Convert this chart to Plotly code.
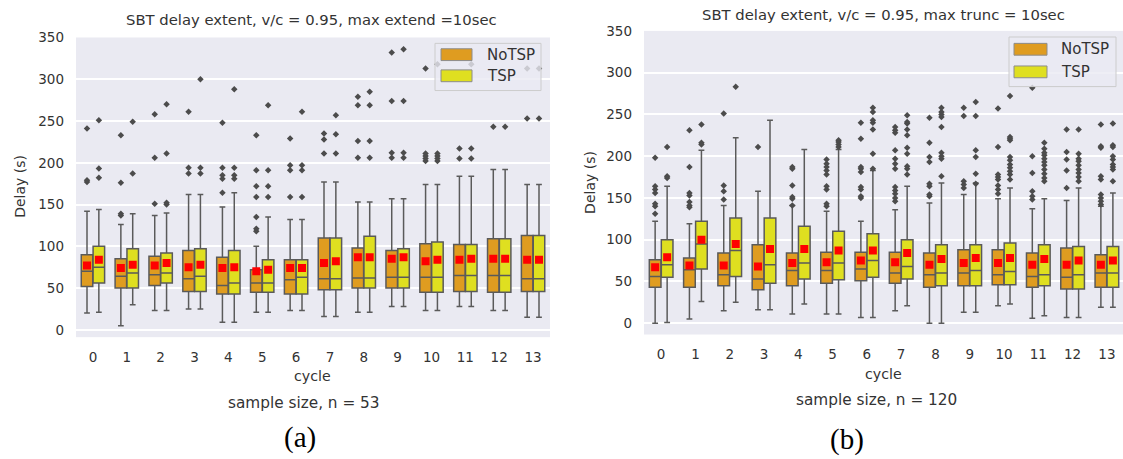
import plotly.graph_objects as go

W, H = 1123, 459

cycles = list(range(14))
cycle_labels = [str(c) for c in cycles]
series_names = ["NoTSP", "TSP"]
y_ticks = [0, 50, 100, 150, 200, 250, 300, 350]

# ---- panel (a): max extend = 10 sec, n = 53 ----
a_notsp_lo = [20, 5, 23, 25, 9, 21, 23, 16, 21, 28, 23, 28, 23, 15]
a_notsp_q1 = [52, 50, 53, 46, 43, 45, 43, 48, 50, 50, 45, 46, 45, 46]
a_notsp_med = [70, 64, 66, 61, 53, 56, 60, 61, 62, 63, 63, 65, 65, 61]
a_notsp_q3 = [90, 85, 88, 95, 87, 72, 84, 110, 98, 95, 103, 102, 109, 113]
a_notsp_hi = [142, 126, 137, 162, 147, 100, 132, 177, 153, 157, 174, 184, 192, 174]
a_notsp_mean = [77, 74, 77, 75, 74, 70, 74, 80, 87, 85, 82, 84, 85, 84]
a_notsp_out = [
    [177, 179, 241], [137, 139, 176, 233], [151, 206, 258], [187, 194, 261],
    [164, 181, 185, 194, 248], [118, 121, 135, 159, 172, 191, 233],
    [159, 191, 197, 229], [211, 228, 235], [206, 226, 269, 279],
    [206, 212, 274, 332], [202, 205, 208, 211, 313], [205, 217], [243], [253, 313],
]

a_tsp_lo = [21, 30, 23, 25, 9, 21, 23, 16, 21, 28, 23, 28, 23, 15]
a_tsp_q1 = [56, 50, 56, 46, 43, 45, 43, 48, 50, 50, 45, 46, 45, 46]
a_tsp_med = [75, 68, 68, 64, 56, 56, 63, 61, 62, 63, 63, 65, 65, 61]
a_tsp_q3 = [100, 97, 92, 97, 95, 84, 84, 110, 112, 97, 105, 102, 109, 113]
a_tsp_hi = [144, 139, 140, 162, 164, 135, 132, 177, 153, 157, 174, 184, 192, 174]
a_tsp_mean = [84, 78, 80, 78, 75, 72, 74, 82, 87, 87, 84, 85, 85, 84]
a_tsp_out = [
    [182, 193, 251], [187, 249], [150, 152, 211, 270], [187, 194, 300],
    [181, 185, 194, 288], [159, 172, 191, 269], [159, 191, 197, 261],
    [211, 234, 257], [206, 226, 269, 285], [206, 212, 274, 336],
    [202, 205, 208, 211, 318], [205, 217, 318], [243], [253, 313],
]

# ---- panel (b): max trunc = 10 sec, n = 120 ----
b_notsp_lo = [0, 5, 15, 16, 11, 11, 7, 15, 0, 13, 21, 6, 7, 19]
b_notsp_q1 = [43, 43, 45, 40, 45, 48, 51, 48, 43, 45, 46, 43, 41, 43]
b_notsp_med = [56, 64, 58, 53, 63, 63, 65, 60, 58, 60, 58, 56, 55, 60]
b_notsp_q3 = [76, 78, 84, 94, 84, 85, 85, 85, 84, 88, 88, 84, 90, 82]
b_notsp_hi = [122, 119, 141, 158, 141, 134, 122, 136, 144, 154, 149, 137, 147, 140]
b_notsp_mean = [67, 69, 69, 68, 72, 73, 75, 73, 70, 72, 72, 70, 70, 70]
b_notsp_out = [
    [131, 140, 143, 156, 160, 164, 198],
    [139, 141, 145, 153, 156, 187, 231],
    [148, 158, 165, 251],
    [211],
    [141, 149, 151, 165, 185, 187],
    [140, 143, 160, 164, 178, 183, 187, 191, 196],
    [150, 152, 160, 163, 181, 185, 187, 221, 240],
    [146, 150, 155, 159, 163, 185, 191, 197, 207, 228, 231, 235],
    [152, 154, 164, 167, 193, 199, 216, 246],
    [162, 166, 170, 248, 258],
    [155, 160, 165, 172, 175, 178, 211, 257],
    [148, 152, 158, 180, 200, 282],
    [162, 183, 196, 205, 232],
    [142, 146, 150, 154, 172, 176, 210, 212, 238],
]

b_tsp_lo = [1, 26, 25, 16, 23, 11, 7, 21, 0, 13, 23, 9, 7, 19]
b_tsp_q1 = [55, 65, 56, 48, 53, 52, 55, 53, 45, 45, 46, 45, 41, 43]
b_tsp_med = [70, 95, 87, 70, 72, 72, 75, 68, 60, 63, 62, 58, 58, 60]
b_tsp_q3 = [100, 122, 126, 126, 116, 110, 107, 100, 94, 94, 96, 94, 92, 92]
b_tsp_hi = [164, 207, 222, 243, 208, 208, 183, 164, 168, 168, 162, 149, 162, 156]
b_tsp_mean = [79, 100, 95, 89, 89, 87, 87, 84, 77, 78, 78, 77, 75, 75]
b_tsp_out = [
    [174, 176, 211],
    [214, 216, 238],
    [283],
    [],
    [],
    [211, 214, 217, 219],
    [185, 203, 232, 240, 243, 253, 258],
    [178, 185, 188, 203, 210, 225, 232, 239, 241, 249],
    [176, 197, 200, 204, 235, 247, 250, 253, 258],
    [167, 179, 199, 207, 248, 265],
    [172, 178, 182, 186, 190, 195, 199, 219, 221, 223, 272],
    [170, 174, 179, 184, 189, 193, 197, 201, 204, 209, 216],
    [170, 175, 180, 184, 189, 194, 197, 203, 232],
    [170, 184, 187, 190, 196, 200, 211, 213, 239],
]

# ---- styling ----
FONT = "DejaVu Sans"
TEXT = "#333333"
BG = "#EAEAF2"
EDGE = "#5a5a5a"
FILL = {"NoTSP": "#DF9C20", "TSP": "#DFDF20"}
BOX_W = 0.34
DODGE = {"NoTSP": -0.175, "TSP": 0.175}


def px(x):
    return x / W


def py(y):
    return 1 - y / H


fig = go.Figure()

panels = [
    ("x", "y", {
        "NoTSP": (a_notsp_lo, a_notsp_q1, a_notsp_med, a_notsp_q3, a_notsp_hi, a_notsp_mean, a_notsp_out),
        "TSP": (a_tsp_lo, a_tsp_q1, a_tsp_med, a_tsp_q3, a_tsp_hi, a_tsp_mean, a_tsp_out),
    }),
    ("x2", "y2", {
        "NoTSP": (b_notsp_lo, b_notsp_q1, b_notsp_med, b_notsp_q3, b_notsp_hi, b_notsp_mean, b_notsp_out),
        "TSP": (b_tsp_lo, b_tsp_q1, b_tsp_med, b_tsp_q3, b_tsp_hi, b_tsp_mean, b_tsp_out),
    }),
]

for xa, ya, groups in panels:
    for name in series_names:
        lo, q1, med, q3, hi, mean, out = groups[name]
        xpos = [c + DODGE[name] for c in cycles]
        fig.add_trace(go.Box(
            x=xpos, q1=q1, median=med, q3=q3, lowerfence=lo, upperfence=hi,
            width=BOX_W, whiskerwidth=0.5, fillcolor=FILL[name],
            line=dict(color=EDGE, width=1.5), name=name, showlegend=False,
            xaxis=xa, yaxis=ya, hoverinfo="skip",
        ))
        ox, oy = [], []
        for c, vals in zip(cycles, out):
            for v in vals:
                ox.append(c + DODGE[name])
                oy.append(v)
        fig.add_trace(go.Scatter(
            x=ox, y=oy, mode="markers", showlegend=False, xaxis=xa, yaxis=ya,
            marker=dict(symbol="diamond", size=5, color="#4c4c4c"), hoverinfo="skip",
        ))
        fig.add_trace(go.Scatter(
            x=xpos, y=mean, mode="markers", showlegend=False, xaxis=xa, yaxis=ya,
            marker=dict(symbol="square", size=8, color="#FF0000"), hoverinfo="skip",
        ))

xaxis_common = dict(
    tickmode="array", tickvals=cycles, ticktext=cycle_labels, showgrid=False,
    zeroline=False, showline=False, ticks="", ticklabelstandoff=10,
    tickfont=dict(family=FONT, size=13.5, color=TEXT), fixedrange=True,
)
yaxis_common = dict(
    tickmode="array", tickvals=y_ticks, showgrid=True, gridcolor="white",
    gridwidth=1.5, zeroline=False, showline=False, ticks="", ticklabelstandoff=11,
    tickfont=dict(family=FONT, size=13.5, color=TEXT), fixedrange=True,
)

fig.update_layout(
    width=W, height=H, margin=dict(l=0, r=0, t=0, b=0),
    paper_bgcolor="white", plot_bgcolor=BG, boxmode="overlay",
    showlegend=False,
    xaxis=dict(domain=[px(76), px(550)], range=[-0.5, 13.5], anchor="y", **xaxis_common),
    yaxis=dict(domain=[py(335), py(30)], range=[-8.8, 350], anchor="x", **yaxis_common),
    xaxis2=dict(domain=[px(644), 1.0], range=[-0.5, 13.47], anchor="y2", **xaxis_common),
    yaxis2=dict(domain=[py(332.3), py(23.3)], range=[-13.5, 350], anchor="x2", **yaxis_common),
)

annotations = []


def text(x, y, s, size, family=FONT, color=TEXT, angle=0, xanchor="center"):
    annotations.append(dict(
        x=px(x), y=py(y), xref="paper", yref="paper", text=s, showarrow=False,
        font=dict(family=family, size=size, color=color), textangle=angle,
        xanchor=xanchor, yanchor="middle",
    ))


text(311, 12, "SBT delay extent, v/c = 0.95, max extend =10sec", 14.8)
text(883.5, 7, "SBT delay extent, v/c = 0.95, max trunc = 10sec", 14.8)
text(20, 182, "Delay (s)", 14, angle=-90)
text(590, 178, "Delay (s)", 14, angle=-90)
text(312, 375, "cycle", 14.2)
text(883, 373, "cycle", 14.2)
text(304, 402, "sample size, n = 53", 15.3)
text(876, 399, "sample size, n = 120", 15.3)
text(300, 437, "(a)", 29, family="Liberation Serif", color="#000000")
text(847, 439, "(b)", 29, family="Liberation Serif", color="#000000")

shapes = []
# legend boxes: frame (x0, y0, x1, y1), patch x-extent, row centres, label x
legends = [
    (435, 36, 541, 84, 441, 472, [47.5, 69], 485),
    (1009, 29.5, 1116, 80, 1014, 1047, [42, 65], 1059),
]
for fx0, fy0, fx1, fy1, bx0, bx1, rows, tx in legends:
    shapes.append(dict(
        type="rect", xref="paper", yref="paper", x0=px(fx0), x1=px(fx1),
        y0=py(fy1), y1=py(fy0), fillcolor="rgba(234,234,242,0.8)",
        line=dict(color="#cccccc", width=1),
    ))
    for name, yc in zip(series_names, rows):
        shapes.append(dict(
            type="rect", xref="paper", yref="paper", x0=px(bx0), x1=px(bx1),
            y0=py(yc + 6), y1=py(yc - 6), fillcolor=FILL[name],
            line=dict(color="#8c8c8c", width=1),
        ))
        text(tx, yc, name, 15, xanchor="left")

fig.update_layout(annotations=annotations, shapes=shapes)

fig.write_html("out.html")
